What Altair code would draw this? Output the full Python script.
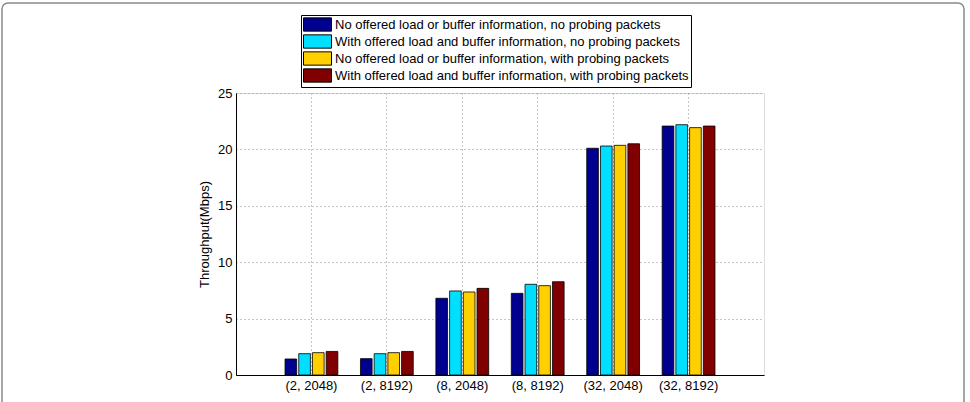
import altair as alt
import pandas as pd

categories = ["(2, 2048)", "(2, 8192)", "(8, 2048)", "(8, 8192)", "(32, 2048)", "(32, 8192)"]
series = [
    "No offered load or buffer information, no probing packets",
    "With offered load and buffer information, no probing packets",
    "No offered load or buffer information, with probing packets",
    "With offered load and buffer information, with probing packets",
]
s1 = [1.42, 1.45, 6.80, 7.24, 20.10, 22.07]
s2 = [1.89, 1.89, 7.45, 8.04, 20.30, 22.19]
s3 = [1.98, 1.98, 7.36, 7.92, 20.36, 21.93]
s4 = [2.09, 2.09, 7.68, 8.27, 20.50, 22.07]
colors = ["#00008F", "#00DFFF", "#FFCF00", "#800000"]
y_ticks = [0, 5, 10, 15, 20, 25]

rows = []
for name, vals in zip(series, [s1, s2, s3, s4]):
    for c, v in zip(categories, vals):
        rows.append({"cat": c, "series": name, "value": v})
df = pd.DataFrame(rows)

FONT = "Liberation Sans"

bars = alt.Chart(df).mark_bar(stroke="black", strokeWidth=0.8).encode(
    x=alt.X(
        "cat:N",
        sort=categories,
        scale=alt.Scale(paddingInner=0.3, paddingOuter=0.65),
        axis=alt.Axis(
            title=None, labelAngle=0, grid=True, gridDash=[1, 3], gridColor="#8c8c8c",
            ticks=False, bandPosition=0.5, labelPadding=4, labelFontSize=13,
            labelFont=FONT, labelColor="black", domainColor="black",
        ),
    ),
    xOffset=alt.XOffset("series:N", sort=series, scale=alt.Scale(paddingInner=0.15)),
    y=alt.Y(
        "value:Q",
        scale=alt.Scale(domain=[0, 25], nice=False),
        axis=alt.Axis(
            title="Throughput(Mbps)", values=y_ticks, grid=True, gridDash=[1, 3],
            gridColor="#8c8c8c", ticks=False, labelPadding=4, labelFontSize=13,
            labelFont=FONT, labelColor="black", titleFont=FONT, titleFontSize=13,
            titleFontWeight="normal", titleColor="black", titlePadding=6,
            domainColor="black",
        ),
    ),
    color=alt.Color(
        "series:N",
        sort=series,
        scale=alt.Scale(domain=series, range=colors),
        legend=alt.Legend(
            title=None, orient="none", legendX=65, legendY=-78,
            direction="vertical", labelFont=FONT, labelFontSize=13, labelColor="black",
            labelLimit=600, symbolType="M-1,-0.95H3V0.95H-1Z", symbolSize=196,
            symbolStrokeColor="black", symbolStrokeWidth=1, symbolOpacity=1,
            strokeColor="black", fillColor="white", padding=2, rowPadding=-3.5,
            labelOffset=17,
        ),
    ),
)

frame = alt.Chart(pd.DataFrame({"a": [0]})).mark_rect(
    fillOpacity=0, stroke="#8a8a8a", strokeWidth=1.5, cornerRadius=6
).encode(
    x=alt.value(-234), x2=alt.value(728), y=alt.value(-90), y2=alt.value(330)
)

chart = alt.layer(frame, bars).properties(
    width=528, height=282,
    autosize=alt.AutoSizeParams(type="none"),
    padding={"left": 236, "top": 93, "right": 206, "bottom": 27},
).configure_view(stroke="black", strokeWidth=1).configure(background="white")

chart.save("out.html", embed_options={"renderer": "svg", "actions": False})
